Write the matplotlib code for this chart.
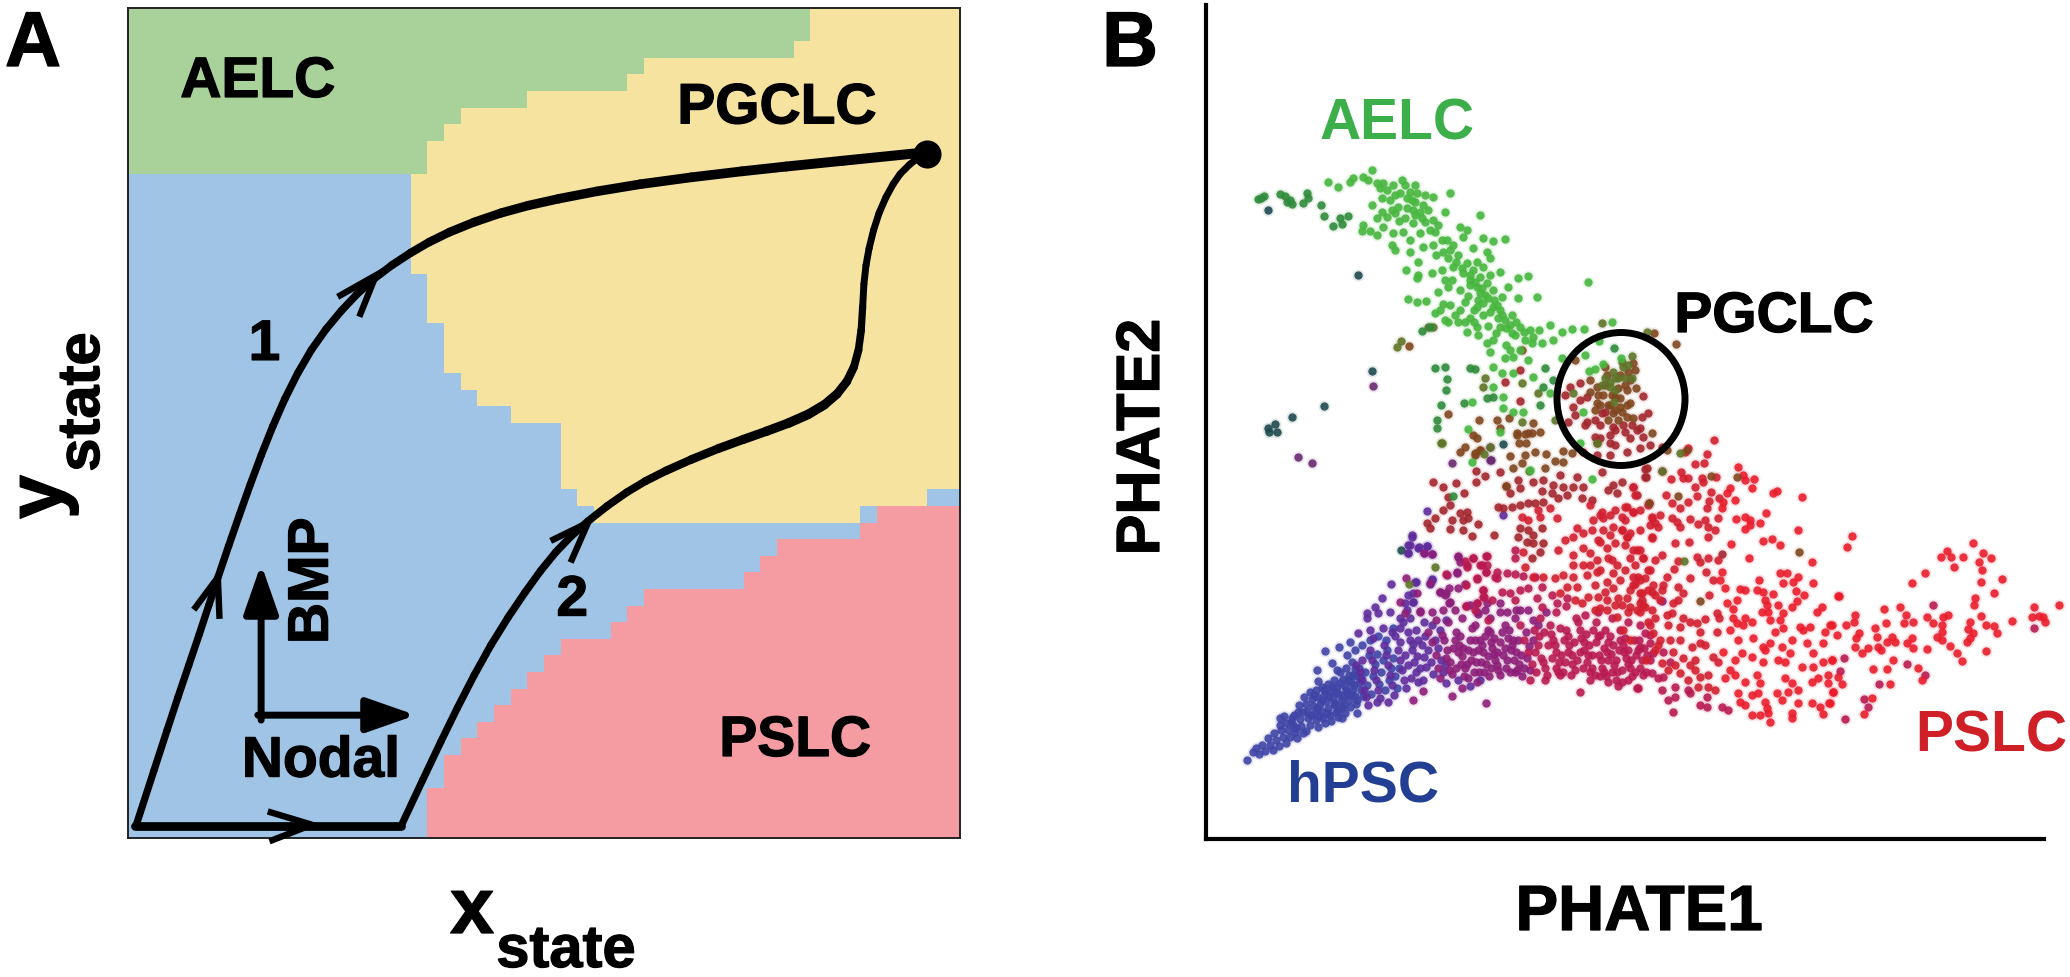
import matplotlib
matplotlib.use("Agg")
import matplotlib.pyplot as plt
import matplotlib.patheffects as pe
from matplotlib.collections import LineCollection
from matplotlib.colors import ListedColormap
from matplotlib.patches import Ellipse
from matplotlib.path import Path
import numpy as np

W, H = 2070, 977
plt.rcParams['font.family'] = ['Liberation Sans', 'DejaVu Sans']
plt.rcParams['font.weight'] = 'bold'

# PANEL A: state map, one value per row of the 50x50 grid
green_end = [41, 41, 40, 31, 30, 24, 20, 19, 18, 18]
yellow_start = [17, 17, 17, 17, 17, 17, 18, 18, 18, 19, 19, 19, 20, 21, 23, 26, 26, 26, 26, 27, 28]  # rows 10-30
yellow_end = {29: 48, 30: 44}
pink_start = [45, 44, 39, 38, 37, 31, 30, 29, 26, 25, 24, 23, 22, 21, 20, 19, 19, 18, 18, 18]  # rows 30-49
map_colors = ['#9FC4E5', '#A9D19A', '#F5E39F', '#F59BA2']

# trajectories in grid units (column, row)
arm1 = [(0.5, 49.2), (1.7, 45.5), (3.0, 41.5), (4.3, 37.7), (5.4, 34.3), (6.7, 30.5), (8.0, 26.9), (9.4, 23.5), (11.0, 20.5), (12.8, 18.2), (14.7, 16.3), (17.0, 14.7),
        (19.2, 13.5), (22.4, 12.3), (25.7, 11.5), (30.6, 10.6), (37.1, 9.8), (42.0, 9.3), (47.9, 8.7)]
arm1_width = ([0, 0.55, 0.75, 1], [5.2, 5.5, 6.6, 7.2])
floor = [(0.4, 49.3), (16.4, 49.3)]
arm2 = [(16.4, 49.3), (17.8, 46.3), (19.8, 42.1), (21.8, 38.3), (23.9, 35.1), (25.7, 32.7), (27.6, 30.9), (30.0, 29.1), (32.2, 27.9), (35.5, 26.5), (38.4, 25.5), (41.0, 24.5),
        (42.7, 23.3), (43.7, 21.7), (44.1, 19.5), (44.2, 16.5), (44.5, 14.5), (45.1, 12.3), (46.0, 10.5), (46.8, 9.5), (47.9, 8.7)]
arm2_width = ([0, 0.35, 0.55, 0.75, 1], [5.2, 5.6, 7, 5, 5])
heads = [
    [(12.6, 17.4), (14.9, 16.1), (13.9, 18.6)],
    [(3.95, 36.25), (5.4, 34.3), (5.5, 36.8)],
    [(8.4, 48.4), (11.05, 49.2), (8.5, 50.2)],
    [(25.4, 32.1), (27.65, 31.0), (26.6, 33.4)],
]
end_dot = (48.0, 8.8)

# PANEL B: cells, reference pixels grouped by colour
teal_pts = [(1268, 210), (1358, 275), (1372, 371), (1324, 406), (1292, 417), (1275, 424), (1269, 432), (1277, 432), (1268, 428), (1401, 550), (1503, 444)]
plum_pts = [(1373, 386), (1298, 457), (1312, 463), (1452, 463), (1490, 447), (1491, 460), (1490, 460)]
blue_pts = [(1247, 760), (1253, 752), (1256, 748), (1259, 754), (1262, 745), (1265, 751), (1268, 738), (1270, 745), (1273, 750), (1274, 733), (1276, 740), (1279, 746),
            (1280, 718), (1281, 730), (1283, 737), (1286, 743), (1286, 723), (1288, 730), (1290, 737), (1292, 718), (1293, 725), (1295, 732), (1297, 738),
            (1298, 712), (1300, 719), (1301, 726), (1303, 733), (1304, 697), (1306, 704), (1307, 711), (1308, 718), (1310, 725), (1310, 692), (1312, 699), (1313, 706), (1315, 713), (1316, 720), (1318, 727),
            (1316, 690), (1318, 697), (1320, 704), (1321, 711), (1323, 718), (1325, 723), (1322, 687), (1325, 694), (1326, 701), (1328, 708), (1330, 715), (1331, 721), (1328, 684), (1331, 691), (1333, 698), (1335, 705), (1336, 712), (1338, 717),
            (1334, 680), (1337, 687), (1339, 694), (1341, 701), (1342, 708), (1345, 713), (1340, 672), (1343, 679), (1345, 686), (1347, 693), (1349, 700), (1350, 707), (1346, 668), (1349, 675), (1351, 682), (1353, 689), (1355, 696), (1356, 704),
            (1352, 662), (1355, 669), (1357, 676), (1359, 683), (1361, 690), (1280, 725), (1294, 715), (1325, 651), (1339, 647), (1317, 670), (1318, 681), (1332, 663), (1337, 670), (1342, 718), (1357, 713),
            (1284, 716), (1291, 722), (1296, 728), (1299, 705), (1303, 712), (1306, 731), (1311, 715), (1314, 695), (1317, 708), (1319, 716), (1322, 700), (1324, 690), (1327, 713), (1329, 696), (1332, 687), (1334, 703), (1336, 692), (1338, 710), (1340, 683), (1343, 697), (1344, 705), (1346, 690), (1348, 680), (1351, 695), (1353, 675), (1354, 685), (1357, 700), (1359, 668), (1361, 678), (1363, 696), (1365, 672), (1367, 685), (1369, 655), (1371, 694), (1373, 676), (1375, 664), (1377, 654), (1379, 684), (1381, 672), (1383, 660), (1385, 690), (1387, 650), (1389, 680), (1391, 668), (1393, 658), (1395, 676), (1397, 688), (1399, 668), (1347, 655), (1355, 650), (1362, 645), (1370, 640), (1378, 636), (1386, 640), (1393, 628), (1350, 642)]
purple_pts = [(1356, 665), (1360, 672), (1362, 680), (1364, 690), (1366, 697), (1368, 705), (1362, 660), (1370, 650), (1372, 660), (1374, 670), (1376, 680), (1378, 690), (1380, 698), (1384, 645), (1386, 655), (1388, 665), (1390, 675), (1392, 685), (1394, 695), (1398, 650), (1400, 660), (1402, 670), (1404, 680), (1406, 688), (1410, 640), (1412, 650), (1414, 662), (1416, 672), (1418, 682), (1422, 645), (1424, 657), (1426, 667),
              (1377, 702), (1388, 702), (1358, 633), (1367, 613), (1367, 618), (1375, 607), (1382, 598), (1391, 584), (1378, 613), (1390, 612), (1383, 628), (1370, 630), (1373, 638), (1408, 553), (1412, 535), (1410, 545), (1427, 546), (1419, 547), (1432, 580), (1416, 582), (1408, 595), (1413, 602), (1407, 610), (1400, 618), (1410, 618), (1400, 628), (1392, 632),
              (1427, 511), (1412, 537), (1408, 545), (1408, 553), (1418, 548), (1427, 546), (1424, 553), (1432, 554), (1415, 582), (1432, 579), (1430, 584), (1413, 593), (1405, 603), (1413, 602), (1503, 515),
              (1400, 642), (1405, 655), (1408, 665), (1411, 678), (1413, 644), (1417, 656), (1420, 668), (1423, 680), (1425, 636), (1428, 650), (1431, 662), (1433, 674), (1435, 640), (1438, 648), (1441, 660), (1443, 672), (1446, 683), (1408, 632), (1416, 630), (1424, 622), (1432, 625), (1440, 630), (1395, 636), (1403, 622), (1418, 640), (1446, 620), (1445, 665), (1458, 680), (1470, 686), (1480, 680)]
magenta_pts = [(1428, 632), (1432, 642), (1436, 655), (1438, 668), (1440, 678), (1444, 640), (1447, 650), (1450, 662), (1452, 674), (1456, 632), (1459, 645), (1462, 656), (1465, 668), (1468, 678), (1472, 628), (1475, 640), (1478, 650), (1481, 662), (1484, 672), (1488, 630), (1491, 642), (1494, 654), (1497, 665), (1500, 675), (1505, 625), (1508, 638), (1511, 650), (1514, 660), (1517, 670), (1436, 620), (1448, 622), (1462, 618), (1478, 614), (1490, 618), (1500, 612), (1515, 618),
               (1413, 700), (1452, 696), (1486, 703), (1462, 688), (1423, 691), (1424, 553), (1432, 554), (1406, 578), (1417, 593), (1400, 602), (1405, 613), (1420, 611), (1440, 592), (1446, 593), (1449, 588), (1449, 603), (1430, 583), (1457, 572), (1458, 556), (1460, 562), (1440, 592), (1445, 595), (1450, 602), (1443, 610), (1432, 612), (1420, 612), (1458, 557), (1447, 575), (1457, 573), (1458, 588), (1465, 584), (1477, 603), (1466, 606), (1477, 612), (1487, 603), (1500, 603), (1516, 610), (1662, 601),
               (1455, 640), (1458, 652), (1461, 664), (1464, 676), (1468, 650), (1471, 660), (1474, 672), (1477, 682), (1480, 640), (1483, 652), (1486, 664), (1489, 676), (1492, 648), (1495, 660), (1498, 670), (1502, 632), (1505, 648), (1507, 660), (1510, 672), (1513, 640), (1516, 652), (1519, 664), (1522, 676), (1526, 632), (1529, 646), (1455, 610), (1470, 605), (1485, 610), (1507, 612), (1520, 610), (1533, 620), (1490, 632), (1475, 625), (1528, 610), (1538, 625), (1546, 612),
               (1442, 635), (1446, 658), (1449, 670), (1453, 648), (1456, 668), (1460, 636), (1463, 648), (1467, 664), (1470, 640), (1473, 652), (1476, 662), (1479, 672), (1482, 645), (1485, 636), (1488, 656), (1491, 668), (1494, 638), (1497, 652), (1500, 642), (1503, 655), (1506, 668), (1509, 630), (1512, 645), (1515, 672), (1518, 640), (1521, 655), (1524, 668), (1527, 658), (1530, 670), (1533, 640)]
crimson_pts = [(1520, 625), (1524, 640), (1528, 652), (1532, 664), (1536, 672), (1540, 618), (1544, 632), (1548, 645), (1552, 658), (1556, 668), (1560, 628), (1564, 640), (1568, 652), (1572, 664), (1576, 618), (1580, 630), (1584, 642), (1588, 655), (1592, 668), (1596, 622), (1600, 635), (1604, 648), (1608, 660), (1612, 672), (1616, 680), (1620, 640), (1624, 652), (1628, 664), (1632, 676), (1636, 655), (1640, 668), (1644, 648), (1600, 676), (1608, 682), (1590, 680), (1622, 682), (1560, 675), (1545, 680), (1530, 680), (1580, 692), (1638, 688),
               (1446, 574), (1465, 561), (1467, 567), (1473, 558), (1486, 556), (1482, 565), (1486, 572), (1477, 578), (1495, 577), (1466, 585), (1483, 590), (1466, 606), (1475, 610), (1484, 597), (1477, 603), (1492, 600), (1488, 620), (1473, 558), (1487, 556), (1467, 565), (1487, 565), (1480, 565), (1477, 579), (1486, 572), (1497, 572), (1507, 573), (1515, 574), (1523, 576), (1535, 577), (1497, 578), (1483, 590), (1483, 597), (1502, 592), (1510, 593), (1520, 590), (1515, 600), (1528, 588), (1542, 587), (1537, 598), (1542, 607), (1552, 595), (1557, 603), (1567, 598), (1515, 550), (1515, 558),
               (1662, 690), (1668, 700), (1675, 687), (1675, 697), (1673, 712), (1663, 677), (1658, 678), (1663, 652), (1670, 662), (1653, 653), (1652, 673), (1637, 688), (1650, 643), (1645, 633), (1640, 647), (1688, 690), (1690, 693), (1707, 697), (1700, 705), (1707, 707), (1722, 707), (1728, 710), (1864, 699), (1868, 707), (1845, 719), (1879, 684), (1907, 664), (1844, 658), (1933, 605), (1925, 675), (1840, 671), (2034, 628),
               (1534, 630), (1538, 645), (1541, 658), (1545, 668), (1550, 625), (1553, 640), (1556, 652), (1559, 662), (1563, 672), (1566, 630), (1569, 645), (1572, 655), (1575, 670), (1578, 622), (1581, 638), (1584, 650), (1587, 662), (1590, 672), (1593, 630), (1596, 642), (1599, 655), (1602, 668), (1605, 630), (1608, 642), (1611, 654), (1614, 665), (1617, 672), (1620, 630), (1623, 645), (1626, 658), (1630, 668), (1634, 640), (1638, 650), (1642, 660), (1646, 672), (1650, 660), (1556, 612), (1566, 606), (1585, 615), (1598, 612), (1612, 618), (1628, 622), (1640, 625), (1650, 635), (1606, 676), (1618, 686), (1628, 680),
               (1535, 652), (1539, 636), (1543, 662), (1547, 675), (1551, 634), (1555, 645), (1558, 672), (1561, 655), (1565, 662), (1568, 636), (1571, 675), (1574, 642), (1577, 660), (1580, 652), (1583, 668), (1586, 634), (1589, 645), (1592, 655), (1595, 675), (1598, 636), (1601, 660), (1604, 672), (1607, 652), (1610, 636), (1613, 645), (1616, 660), (1619, 650), (1622, 670), (1625, 638), (1628, 650), (1631, 660), (1635, 672), (1639, 640), (1643, 675), (1647, 655)]
darkred_pts = [(1500, 472), (1485, 476), (1476, 482), (1476, 471), (1433, 482), (1443, 487), (1456, 483), (1464, 493), (1448, 497), (1450, 505), (1443, 510), (1435, 518), (1427, 523), (1430, 528), (1452, 520), (1450, 529), (1460, 513), (1467, 512), (1463, 520), (1468, 518), (1478, 524), (1463, 530), (1472, 536), (1494, 535), (1506, 486), (1518, 480), (1510, 493), (1520, 488), (1533, 482), (1542, 491), (1543, 480), (1498, 507), (1503, 508), (1512, 507), (1520, 505), (1528, 503), (1535, 503), (1543, 502), (1552, 493), (1560, 475), (1553, 485), (1563, 487), (1567, 495), (1558, 498), (1577, 477), (1573, 487), (1583, 487), (1582, 498), (1592, 500), (1602, 472), (1613, 485), (1622, 482), (1633, 487), (1637, 495), (1617, 493), (1608, 490), (1647, 468), (1645, 477), (1520, 528), (1518, 537), (1528, 530), (1542, 528), (1533, 535), (1527, 542), (1533, 543), (1543, 543), (1540, 552), (1532, 558), (1662, 471), (1645, 469), (1646, 477), (1649, 503), (1565, 395), (1580, 383), (1570, 387), (1587, 397), (1643, 396), (1573, 407), (1642, 417), (1648, 413), (1602, 413), (1568, 422), (1587, 422), (1600, 425), (1613, 427), (1623, 425), (1637, 430), (1610, 435), (1630, 438), (1643, 437), (1595, 437), (1610, 443), (1627, 452), (1640, 448), (1650, 445), (1662, 447), (1610, 455), (1583, 452), (1597, 455), (1722, 554), (1520, 370), (1505, 382), (1520, 401),
               (1585, 425), (1600, 438), (1615, 445), (1625, 432), (1595, 420), (1615, 430), (1605, 412), (1580, 400), (1575, 415), (1632, 425), (1640, 428)]
red_pts = [(1648, 505), (1627, 507), (1633, 512), (1652, 518), (1610, 515), (1602, 512), (1593, 520), (1603, 518), (1622, 517), (1613, 527), (1622, 530), (1603, 530), (1592, 530), (1583, 533), (1573, 537), (1577, 528), (1557, 518), (1550, 508), (1540, 517), (1522, 517), (1528, 520), (1538, 510), (1558, 550), (1565, 540), (1573, 555), (1583, 548), (1590, 553), (1600, 542), (1607, 548), (1615, 543), (1637, 550), (1630, 558), (1643, 558), (1652, 537), (1648, 570), (1573, 565), (1583, 565), (1597, 560), (1608, 558), (1617, 565), (1613, 573), (1597, 572), (1587, 575), (1573, 577), (1563, 575), (1567, 587), (1577, 587), (1555, 578), (1560, 593), (1607, 582), (1613, 588), (1620, 580), (1638, 577), (1633, 585), (1640, 593), (1648, 590), (1627, 598), (1622, 605), (1630, 607), (1607, 600), (1598, 597), (1588, 597), (1582, 603), (1575, 600), (1595, 610), (1607, 610), (1617, 617), (1637, 610), (1645, 607), (1648, 622), (1523, 552), (1525, 567), (1533, 577), (1543, 577),
           (1714, 440), (1688, 448), (1685, 452), (1707, 454), (1695, 464), (1704, 463), (1671, 479), (1681, 472), (1683, 478), (1688, 478), (1702, 478), (1703, 482), (1716, 477), (1695, 487), (1697, 496), (1711, 492), (1666, 495), (1672, 503), (1688, 502), (1680, 508), (1719, 498), (1709, 501), (1707, 508), (1633, 487), (1635, 495), (1625, 507), (1633, 512), (1652, 517), (1660, 515), (1655, 523), (1658, 527), (1672, 518), (1677, 522), (1680, 527), (1690, 519), (1698, 524), (1705, 520), (1708, 527), (1718, 518), (1715, 530), (1708, 537), (1689, 542), (1675, 543), (1652, 538), (1662, 555), (1627, 537), (1630, 533), (1622, 530), (1633, 550), (1640, 550), (1643, 558), (1674, 569), (1650, 570), (1667, 577), (1706, 572), (1690, 578), (1713, 580), (1678, 561), (1697, 557), (1700, 562), (1708, 558), (1718, 560), (1709, 595), (1678, 587), (1683, 593), (1678, 600), (1673, 603), (1663, 585), (1653, 585), (1652, 592), (1662, 590), (1640, 580), (1635, 584), (1642, 593), (1640, 603), (1652, 610), (1643, 605), (1672, 613), (1667, 615), (1705, 619), (1683, 618), (1690, 622), (1697, 623), (1680, 627), (1717, 632), (1700, 632), (1717, 613), (1719, 618), (1700, 643), (1692, 647), (1705, 645), (1713, 657), (1718, 662), (1695, 660), (1695, 670), (1700, 677), (1708, 675), (1698, 687), (1708, 687), (1715, 690), (1680, 673), (1673, 652), (1662, 663), (1683, 658), (1630, 640), (1623, 630), (1653, 633), (1627, 537), (1633, 577),
           (1590, 505), (1600, 515), (1615, 510), (1625, 520), (1640, 510), (1650, 525), (1598, 540), (1610, 535), (1625, 545), (1640, 530), (1590, 565), (1600, 570), (1612, 560), (1625, 570), (1635, 565), (1645, 578), (1655, 560), (1595, 585), (1605, 592), (1618, 598), (1630, 590), (1642, 600), (1655, 595), (1600, 608), (1615, 605), (1628, 612), (1640, 612), (1655, 618), (1660, 600), (1668, 625), (1650, 625), (1660, 640), (1655, 650), (1670, 640), (1680, 640), (1668, 670), (1646, 660), (1658, 645), (1675, 665), (1690, 665), (1688, 680)]
bright_pts = [(1738, 467), (1743, 475), (1745, 480), (1754, 479), (1752, 488), (1777, 491), (1773, 493), (1802, 497), (1730, 488), (1727, 493), (1723, 502), (1735, 500), (1722, 508), (1736, 519), (1745, 517), (1750, 520), (1750, 525), (1745, 529), (1760, 523), (1766, 513), (1798, 530), (1763, 541), (1772, 539), (1780, 545), (1731, 544), (1812, 562), (1749, 558), (1722, 572), (1720, 580), (1725, 588), (1759, 580), (1780, 573), (1787, 573), (1798, 577), (1783, 583), (1793, 582), (1813, 583), (1796, 591), (1804, 595), (1838, 596), (1757, 590), (1763, 592), (1773, 594), (1740, 589), (1745, 590), (1737, 600), (1765, 600), (1762, 612), (1768, 612), (1767, 605), (1778, 605), (1792, 607), (1797, 601), (1822, 607), (1817, 612), (1727, 603), (1733, 609), (1730, 630), (1737, 623), (1743, 625), (1752, 622), (1733, 618), (1745, 618), (1770, 620), (1780, 620), (1783, 613), (1775, 632), (1783, 628), (1800, 627), (1810, 627), (1803, 630), (1830, 625), (1825, 632), (1738, 640), (1753, 638), (1763, 647), (1770, 643), (1792, 640), (1807, 643), (1823, 643), (1723, 652), (1742, 653), (1752, 657), (1765, 650), (1782, 647), (1790, 653), (1778, 660), (1763, 662), (1785, 662), (1813, 653), (1823, 662), (1832, 660), (1802, 667), (1813, 667), (1735, 660), (1730, 670), (1725, 678), (1735, 675), (1745, 682), (1738, 693), (1752, 695), (1758, 693), (1760, 683), (1757, 675), (1740, 702), (1745, 705), (1765, 702), (1767, 708), (1752, 715), (1760, 715), (1770, 722), (1768, 713), (1777, 693), (1785, 678), (1788, 692), (1792, 683), (1782, 700), (1798, 690), (1798, 703), (1812, 703), (1820, 707), (1829, 703), (1823, 714), (1792, 713), (1792, 718), (1833, 692), (1828, 675), (1812, 682), (1818, 678), (1828, 683),
              (1852, 536), (1847, 547), (1839, 596), (1973, 543), (1947, 551), (1941, 557), (1951, 557), (1963, 557), (1954, 567), (1983, 553), (1991, 558), (1979, 562), (1982, 570), (1925, 573), (1912, 583), (1981, 582), (2002, 579), (1994, 593), (1975, 598), (1974, 605), (2059, 605), (2034, 607), (1900, 607), (1884, 609), (1981, 616), (2043, 617), (2039, 616), (2032, 617), (2045, 622), (2012, 621), (1855, 615), (1854, 622), (1906, 615), (1904, 623), (1913, 622), (1886, 623), (1927, 617), (1943, 617), (1948, 615), (1933, 623), (1942, 625), (1970, 622), (1968, 629), (1986, 625), (1994, 626), (1997, 633), (1846, 625), (1832, 625), (1875, 628), (1859, 633), (1837, 635), (1856, 638), (1877, 637), (1892, 637), (1887, 642), (1895, 642), (1942, 632), (1937, 637), (1942, 640), (1973, 633), (1970, 638), (1967, 642), (1912, 638), (1907, 643), (1913, 648), (1950, 646), (1855, 647), (1862, 653), (1868, 648), (1878, 647), (1881, 650), (1927, 649), (1986, 651), (1957, 653), (1962, 661), (1893, 660), (1832, 660), (1918, 668), (1873, 669), (1887, 669), (1922, 680), (1890, 684), (1842, 684), (1838, 677), (1833, 692), (1872, 698), (1864, 714), (1830, 703)]
brown_pts = [(1460, 452), (1465, 447), (1475, 455), (1480, 450), (1477, 438), (1473, 435), (1510, 456), (1525, 455), (1519, 443), (1526, 443), (1517, 435), (1525, 434), (1532, 433), (1513, 468), (1522, 463), (1545, 468), (1546, 454), (1535, 452), (1563, 451), (1572, 453), (1563, 462), (1555, 461), (1597, 443), (1506, 486), (1409, 346), (1448, 414), (1479, 420), (1497, 420), (1500, 428), (1509, 418), (1533, 423), (1517, 433), (1528, 433), (1540, 432), (1480, 450), (1475, 453), (1633, 363), (1635, 370), (1590, 380), (1618, 388), (1627, 390), (1597, 387), (1603, 395), (1615, 397), (1608, 405), (1620, 407), (1597, 403), (1630, 403), (1613, 413), (1627, 417), (1633, 418), (1652, 433), (1654, 333), (1575, 360), (1522, 350), (1649, 503), (1678, 496), (1711, 476), (1700, 601), (1737, 477), (1667, 450), (1687, 450), (1676, 344), (1799, 552),
             (1605, 385), (1612, 395), (1620, 398), (1625, 385), (1610, 405), (1615, 410), (1622, 412), (1598, 395), (1607, 375), (1620, 375), (1628, 372), (1630, 380), (1600, 405), (1595, 410), (1608, 420), (1618, 420), (1627, 405), (1636, 388), (1590, 392), (1605, 367)]
olive_pts = [(1632, 356), (1623, 367), (1613, 372), (1632, 378), (1605, 378), (1615, 378), (1573, 393), (1610, 387), (1597, 443), (1602, 323), (1647, 332), (1538, 393), (1555, 420), (1522, 422), (1522, 383), (1485, 378), (1483, 387), (1442, 443), (1397, 347), (1401, 341), (1428, 327), (1433, 327), (1484, 454), (1435, 567), (1409, 584), (1680, 453), (1684, 561), (1662, 471), (1441, 443), (1490, 447), (1529, 471),
             (1618, 378), (1610, 382), (1625, 378), (1602, 385), (1615, 390), (1622, 362), (1628, 365), (1614, 402)]
darkgreen_pts = [(1261, 198), (1258, 199), (1264, 196), (1280, 194), (1285, 196), (1290, 200), (1287, 202), (1292, 204), (1303, 203), (1307, 193), (1308, 198), (1321, 205), (1324, 216), (1348, 216), (1340, 218), (1342, 224), (1333, 226), (1435, 368), (1445, 367), (1447, 379), (1446, 390), (1441, 405), (1464, 403), (1437, 420), (1437, 428), (1614, 348), (1487, 398), (1493, 397), (1422, 331), (1430, 327), (1470, 368), (1475, 369), (1453, 496), (1545, 368), (1553, 380), (1543, 387), (1540, 405)]
green_pts = [(1372, 170), (1363, 177), (1353, 178), (1350, 182), (1328, 182), (1338, 187), (1368, 180), (1377, 183), (1383, 183), (1393, 185), (1380, 188), (1387, 190), (1400, 193), (1410, 192), (1417, 193), (1450, 193), (1433, 197), (1407, 198), (1415, 202), (1423, 205), (1428, 210), (1413, 210), (1407, 208), (1445, 212), (1480, 215), (1372, 205), (1382, 198), (1382, 212), (1377, 218), (1387, 217), (1395, 213), (1415, 215), (1422, 218), (1433, 220), (1413, 223), (1438, 225), (1399, 221), (1363, 225), (1362, 231), (1370, 231), (1383, 227), (1377, 235), (1393, 233), (1392, 245), (1395, 250), (1403, 232), (1410, 240), (1420, 233), (1430, 230), (1460, 227), (1467, 230), (1463, 237), (1483, 238), (1493, 241), (1505, 239), (1473, 248), (1447, 240), (1453, 245), (1423, 247), (1433, 245), (1443, 252), (1458, 255), (1448, 258), (1487, 252), (1490, 258), (1477, 262), (1467, 263), (1453, 267), (1410, 252), (1418, 262), (1406, 270), (1432, 273), (1418, 275), (1417, 278), (1445, 280), (1438, 292), (1448, 287), (1463, 273), (1473, 270), (1483, 267), (1500, 272), (1518, 278), (1528, 276), (1588, 282), (1537, 297), (1518, 298), (1508, 287), (1470, 280), (1477, 287), (1487, 283), (1493, 290), (1480, 293), (1502, 297), (1483, 303), (1493, 307), (1477, 307), (1502, 315), (1408, 299), (1417, 302), (1426, 301), (1443, 304), (1435, 313), (1460, 310), (1448, 322), (1458, 322), (1467, 332), (1477, 327), (1490, 275), (1480, 277), (1470, 285), (1485, 295), (1478, 300), (1465, 302), (1497, 305), (1490, 312), (1505, 320), (1510, 325), (1515, 335), (1525, 340), (1530, 330), (1500, 310), (1512, 315), (1474, 310), (1483, 315), (1470, 318), (1445, 320), (1455, 315), (1440, 310), (1450, 305),
             (1533, 337), (1542, 343), (1532, 343), (1520, 327), (1512, 333), (1500, 327), (1493, 340), (1487, 343), (1490, 352), (1505, 358), (1513, 357), (1528, 360), (1533, 377), (1513, 373), (1502, 373), (1493, 367), (1493, 387), (1472, 402), (1503, 397), (1503, 408), (1513, 412), (1523, 412), (1468, 429), (1539, 330), (1550, 325), (1562, 332), (1572, 329), (1584, 329), (1612, 322), (1599, 341), (1553, 340), (1562, 358), (1585, 355), (1550, 393), (1603, 364), (1595, 369), (1589, 371), (1621, 358), (1583, 412), (1580, 443), (1472, 462), (1530, 470), (1592, 479), (1500, 432),
             (1395, 195), (1405, 185), (1412, 200), (1420, 212), (1425, 222), (1435, 232), (1442, 240), (1450, 250), (1456, 262), (1462, 268), (1470, 275), (1475, 282), (1482, 288), (1488, 298), (1494, 300), (1498, 318), (1506, 328), (1516, 322), (1524, 332), (1436, 255), (1442, 270), (1452, 280), (1460, 290), (1468, 296), (1474, 322), (1465, 322), (1488, 326), (1496, 333), (1478, 335), (1506, 345), (1520, 350), (1510, 350), (1390, 200), (1398, 207), (1405, 218), (1392, 210), (1425, 195), (1402, 180), (1415, 185)]
gate_center = (1621, 399)

px = lambda x, y: (x / W, 1 - y / H)
heavy = [pe.withStroke(linewidth=0.9, foreground='black')]


def add_axes_px(x0, y0, x1, y1):
    return fig.add_axes([x0 / W, 1 - y1 / H, (x1 - x0) / W, (y1 - y0) / H])


def smooth(ax, pts, width):
    # quadratic pieces through the midpoints of the read points, drawn with a changing line width
    verts = [pts[0]]
    codes = [Path.MOVETO]
    for i in range(1, len(pts) - 1):
        mid = ((pts[i][0] + pts[i + 1][0]) / 2, (pts[i][1] + pts[i + 1][1]) / 2)
        if i == len(pts) - 2:
            mid = pts[-1]
        verts += [pts[i], mid]
        codes += [Path.CURVE3, Path.CURVE3]
    line = Path(verts, codes).to_polygons(closed_only=False)[0]
    segs = np.stack([line[:-1], line[1:]], axis=1)
    pos = np.linspace(0, 1, len(segs))
    ax.add_collection(LineCollection(segs, colors='black', linewidths=np.interp(pos, *width), capstyle='round', zorder=4))


fig = plt.figure(figsize=(W / 100, H / 100), dpi=100)

# A
ax = add_axes_px(128, 8, 960, 838)
grid = np.zeros((50, 50), dtype=int)
for r, end in enumerate(green_end):
    grid[r, :end] = 1
    grid[r, end:] = 2
for r, start in enumerate(yellow_start):
    grid[r + 10, start:yellow_end.get(r + 10, 50)] = 2
for r, start in enumerate(pink_start):
    grid[r + 30, start:] = 3
ax.imshow(grid, cmap=ListedColormap(map_colors), vmin=0, vmax=3, extent=[0, 50, 50, 0], interpolation='nearest', aspect='auto')
smooth(ax, arm1, arm1_width)
ax.plot(*zip(*floor), color='black', lw=6.3, solid_capstyle='round', zorder=4)
smooth(ax, arm2, arm2_width)
for h in heads:
    ax.plot(*zip(*h), color='black', lw=4.6, solid_joinstyle='miter', solid_capstyle='butt', clip_on=False, zorder=5)
ax.scatter(*end_dot, s=370, color='black', zorder=6, clip_on=False)
head = '-|>,head_length=30,head_width=10.5'
ax.annotate('', xy=(8.0, 33.5), xytext=(8.0, 42.9), arrowprops=dict(arrowstyle=head, mutation_scale=1, lw=5, color='black', shrinkA=0, shrinkB=0))
ax.annotate('', xy=(17.3, 42.6), xytext=(7.8, 42.6), arrowprops=dict(arrowstyle=head, mutation_scale=1, lw=5, color='black', shrinkA=0, shrinkB=0))
for txt, c, r in [('AELC', 7.8, 5.36), ('PGCLC', 39.0, 6.95), ('PSLC', 40.1, 45.06), ('1', 8.2, 21.2), ('2', 26.7, 36.6), ('Nodal', 11.6, 46.3)]:
    ax.text(c, r, txt, fontsize=41, ha='center', va='baseline', color='black', path_effects=heavy)
ax.text(12.0, 34.5, 'BMP', fontsize=41, rotation=90, rotation_mode='anchor', ha='center', va='baseline', color='black', path_effects=heavy)
ax.set_xlim(0, 50)
ax.set_ylim(50, 0)
ax.set_xticks([])
ax.set_yticks([])
for s in ax.spines.values():
    s.set_linewidth(1.4)
    s.set_color('#222222')

fig.text(*px(33, 66), 'A', fontsize=56, ha='center', va='baseline', path_effects=heavy)
fig.text(*px(472, 933), 'x', fontsize=57, ha='center', va='baseline', path_effects=heavy)
fig.text(*px(566, 967), 'state', fontsize=43, ha='center', va='baseline', path_effects=heavy)
fig.text(*px(62, 497), 'y', fontsize=57, rotation=90, rotation_mode='anchor', ha='center', va='baseline', path_effects=heavy)
fig.text(*px(99, 402), 'state', fontsize=43, rotation=90, rotation_mode='anchor', ha='center', va='baseline', path_effects=heavy)

# B
bx = add_axes_px(1206, 5, 2044, 839)
groups = [(teal_pts, '#1F4A50'), (blue_pts, '#3F44A6'), (purple_pts, '#5F2C9C'), (magenta_pts, '#8C1E78'), (plum_pts, '#6A2A70'),
          (crimson_pts, '#B81A52'), (darkred_pts, '#A3262E'), (red_pts, '#D21F30'), (bright_pts, '#EA1C2C'),
          (brown_pts, '#80461F'), (olive_pts, '#5F7428'), (darkgreen_pts, '#2F8A3A'), (green_pts, '#47B63E')]
for pts, col in groups:
    bx.scatter(*zip(*pts), s=75, color=col, linewidths=0, alpha=0.12, clip_on=False)
for pts, col in groups:
    bx.scatter(*zip(*pts), s=36, color=col, linewidths=0, alpha=0.9, clip_on=False)
bx.add_patch(Ellipse(gate_center, 128, 133, fill=False, ec='black', lw=5, zorder=5))
bx.text(1397, 140, 'AELC', fontsize=41, ha='center', va='baseline', color='#3CAF4A')
bx.text(1774, 332, 'PGCLC', fontsize=41, ha='center', va='baseline', color='black', path_effects=heavy)
bx.text(1363, 802, 'hPSC', fontsize=41, ha='center', va='baseline', color='#233F94')
bx.text(1991, 752, 'PSLC', fontsize=41, ha='center', va='baseline', color='#CF2027', clip_on=False)
bx.set_xlim(1206, 2044)
bx.set_ylim(839, 5)
bx.set_xticks([])
bx.set_yticks([])
bx.spines['top'].set_visible(False)
bx.spines['right'].set_visible(False)
bx.spines['left'].set_linewidth(3)
bx.spines['bottom'].set_linewidth(3)
fig.text(*px(1130, 66), 'B', fontsize=56, ha='center', va='baseline', path_effects=heavy)
fig.text(*px(1639, 930), 'PHATE1', fontsize=46, ha='center', va='baseline', path_effects=heavy)
fig.text(*px(1159, 437), 'PHATE2', fontsize=44, rotation=90, rotation_mode='anchor', ha='center', va='baseline', path_effects=heavy)

fig.savefig('out.png', dpi=100)
